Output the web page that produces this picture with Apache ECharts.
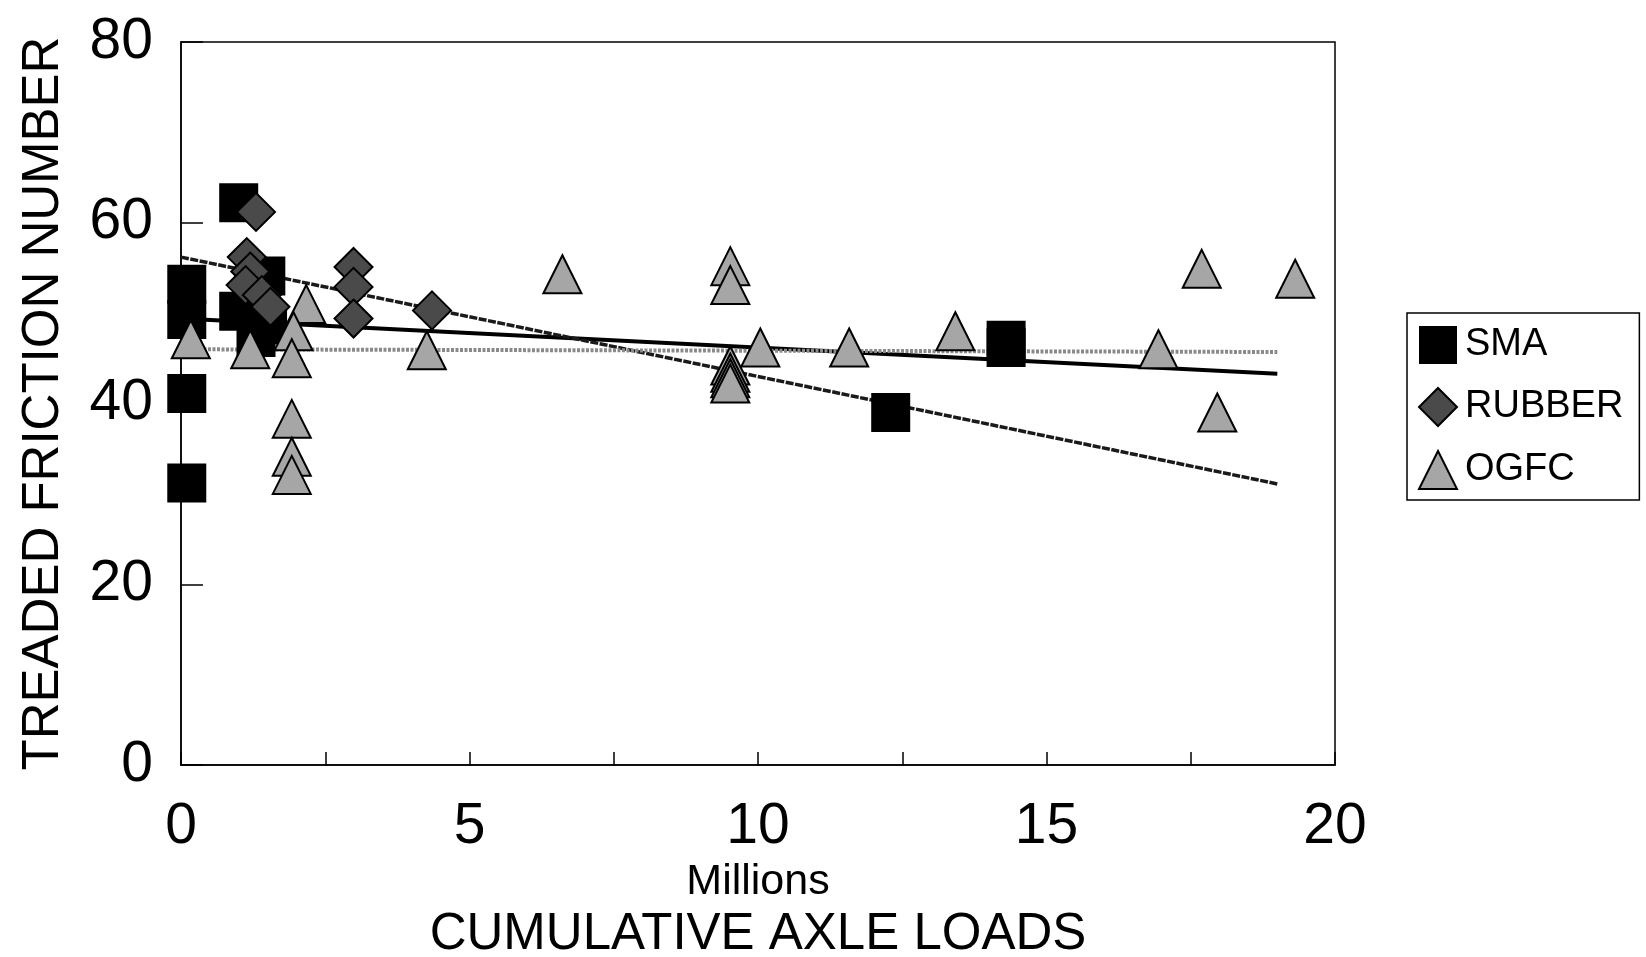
<!DOCTYPE html>
<html>
<head>
<meta charset="utf-8">
<script src="https://cdn.jsdelivr.net/npm/echarts@6/dist/echarts.min.js"></script>
<style>
html,body{margin:0;padding:0;background:#fff;}
#chart{width:1646px;height:957px;}
</style>
</head>
<body>
<div id="chart"></div>
<script>
// ---- data ----
const smaX = [0.1, 0.1, 0.1, 0.1, 1.0, 1.0, 1.47, 1.3, 1.5, 12.3, 14.3, 14.3];
const smaY = [53.2, 49.3, 41.1, 31.2, 62.2, 50.2, 54.1, 47.3, 48.7, 39.0, 47.0, 46.2];

const rubberX = [1.3, 1.14, 1.2, 1.12, 1.4, 1.55, 2.99, 2.99, 2.99, 4.35];
const rubberY = [61.2, 56.2, 54.6, 53.1, 52.0, 50.7, 55.1, 52.9, 49.4, 50.3];

const ogfcX = [0.17, 1.2, 2.17, 1.95, 1.92, 1.92, 1.92, 1.92, 4.26, 6.61, 9.52, 9.52, 9.52, 9.52, 9.52, 9.52, 10.04, 11.58, 13.42, 16.94, 17.69, 17.96, 19.31];
const ogfcY = [47.1, 46.0, 51.0, 48.0, 45.0, 38.3, 34.1, 32.1, 45.9, 54.3, 55.2, 53.1, 44.2, 43.4, 42.8, 42.2, 46.2, 46.2, 48.0, 46.0, 54.9, 39.0, 53.8];

// trend lines (endpoints)
const trendX = [0, 19];
const smaTrendY = [49.4, 43.3];
const rubberTrendY = [56.2, 31.1];
const ogfcTrendY = [46.0, 45.7];

const seriesNames = ['SMA', 'RUBBER', 'OGFC'];
const xTickLabels = ['0', '5', '10', '15', '20'];

function zip(xs, ys) { return xs.map((x, i) => [x, ys[i]]); }

const FONT = 'Liberation Sans, Arial, sans-serif';
const chart = echarts.init(document.getElementById('chart'), null, { renderer: 'canvas' });

chart.setOption({
  animation: false,
  backgroundColor: '#fff',
  grid: { left: 181, right: 311, top: 42, bottom: 192, show: true, borderColor: '#000', borderWidth: 1.5,
          containLabel: false, outerBoundsMode: 'none' },
  legend: {
    orient: 'vertical',
    left: 1407, top: 313,
    padding: [13, 16, 10, 11],
    itemGap: 23,
    itemWidth: 38, itemHeight: 38,
    borderColor: '#000', borderWidth: 1.5,
    textStyle: { fontSize: 38, color: '#000', fontFamily: FONT, padding: [0, 0, 0, 3] },
    data: [
      { name: seriesNames[0], icon: 'rect' },
      { name: seriesNames[1], icon: 'diamond' },
      { name: seriesNames[2], icon: 'triangle' }
    ]
  },
  xAxis: {
    type: 'value', min: 0, max: 20, interval: 2.5,
    axisLine: { lineStyle: { color: '#000', width: 1.5 } },
    axisTick: { inside: true, length: 13, lineStyle: { color: '#000', width: 1.5 } },
    splitLine: { show: false },
    axisLabel: {
      fontSize: 57, color: '#000', fontFamily: FONT, margin: 34,
      formatter: v => (v % 5 === 0 ? xTickLabels[v / 5] : '')
    },
    name: '{a|Millions}\n{b|CUMULATIVE AXLE LOADS}',
    nameLocation: 'middle', nameGap: 93,
    nameTextStyle: {
      rich: {
        a: { fontSize: 43, lineHeight: 46, color: '#000', fontFamily: FONT },
        b: { fontSize: 51, lineHeight: 60, color: '#000', fontFamily: FONT }
      }
    }
  },
  yAxis: {
    type: 'value', min: 0, max: 80, interval: 20,
    axisLine: { lineStyle: { color: '#000', width: 1.5 } },
    axisTick: { inside: true, length: 22, lineStyle: { color: '#000', width: 1.5 } },
    splitLine: { show: false },
    axisLabel: { fontSize: 57, color: '#000', fontFamily: FONT, margin: 28 },
    name: 'TREADED FRICTION NUMBER',
    nameLocation: 'middle', nameRotate: 90, nameGap: 112,
    nameTextStyle: { fontSize: 51, color: '#000', fontFamily: FONT }
  },
  series: [
    { name: 'SMA trend', type: 'line', data: zip(trendX, smaTrendY), symbol: 'none', z: 1,
      lineStyle: { color: '#000', width: 4 } },
    { name: 'RUBBER trend', type: 'line', data: zip(trendX, rubberTrendY), symbol: 'none', z: 1,
      lineStyle: { color: '#1a1a1a', width: 3.5, type: [8, 1.5] } },
    { name: 'OGFC trend', type: 'line', data: zip(trendX, ogfcTrendY), symbol: 'none', z: 1,
      lineStyle: { color: '#8a8a8a', width: 4, type: [3, 1.5] } },
    { name: seriesNames[0], type: 'scatter', data: zip(smaX, smaY), symbol: 'rect', symbolSize: 39, z: 2,
      itemStyle: { color: '#000', opacity: 1 } },
    { name: seriesNames[1], type: 'scatter', data: zip(rubberX, rubberY), symbol: 'diamond', symbolSize: 38, z: 3,
      itemStyle: { color: '#4a4a4a', borderColor: '#000', borderWidth: 2, opacity: 1 } },
    { name: seriesNames[2], type: 'scatter', data: zip(ogfcX, ogfcY), symbol: 'triangle', symbolSize: 38, z: 4,
      itemStyle: { color: '#a6a6a6', borderColor: '#000', borderWidth: 2, opacity: 1 } }
  ]
});
</script>
</body>
</html>
